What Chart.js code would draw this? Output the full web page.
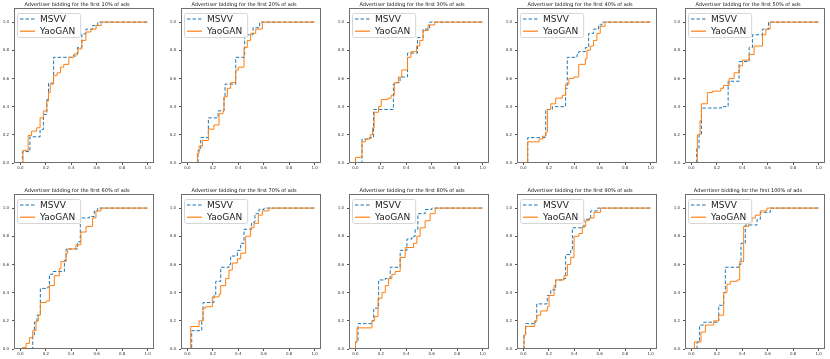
<!DOCTYPE html>
<html><head><meta charset="utf-8">
<script src="https://cdn.jsdelivr.net/npm/chart.js@4.4.1/dist/chart.umd.min.js"></script>
<style>html,body{margin:0;padding:0;background:#fff;width:830px;height:359px;overflow:hidden;position:relative}
canvas{position:absolute}</style></head><body>
<script>
// ---------- data ----------
const percents = [10,20,30,40,50,60,70,80,90,100];
const seriesNames = ['MSVV','YaoGAN'];
const xTicks = [0,0.2,0.4,0.6,0.8,1.0];
const yTicks = [0,0.2,0.4,0.6,0.8,1.0];

const msvv10 = [[0,0],[0.016,0.081],[0.075,0.186],[0.155,0.238],[0.181,0.345],[0.208,0.45],[0.221,0.567],[0.261,0.75],[0.408,0.76],[0.448,0.82],[0.483,0.917],[0.515,0.95],[0.568,0.976],[0.608,1.0],[1,1]];
const yao10 = [[0,0],[0.021,0.09],[0.061,0.195],[0.088,0.226],[0.128,0.25],[0.155,0.32],[0.181,0.37],[0.208,0.44],[0.221,0.5],[0.235,0.56],[0.261,0.62],[0.288,0.64],[0.315,0.68],[0.341,0.70],[0.381,0.75],[0.421,0.774],[0.453,0.81],[0.483,0.87],[0.515,0.93],[0.555,0.95],[0.595,0.976],[0.635,1.0],[1,1]];

const msvv20 = [[0,0],[0.084,0.09],[0.105,0.18],[0.165,0.32],[0.241,0.37],[0.288,0.47],[0.296,0.56],[0.38,0.75],[0.45,0.91],[0.516,0.96],[0.568,1.0],[1,1]];
const yao20 = [[0,0],[0.079,0.07],[0.092,0.12],[0.118,0.16],[0.165,0.24],[0.209,0.27],[0.249,0.35],[0.28,0.37],[0.288,0.47],[0.314,0.53],[0.34,0.57],[0.38,0.66],[0.40,0.68],[0.445,0.82],[0.471,0.87],[0.497,0.92],[0.537,0.95],[0.589,1.0],[1,1]];

const msvv30 = [[0,0],[0.052,0.17],[0.109,0.18],[0.143,0.38],[0.299,0.56],[0.312,0.57],[0.351,0.61],[0.41,0.78],[0.488,0.89],[0.532,0.95],[0.584,1.0],[1,1]];
const yao30 = [[0,0],[0.001,0.04],[0.052,0.15],[0.078,0.17],[0.117,0.2],[0.135,0.25],[0.148,0.36],[0.182,0.4],[0.203,0.45],[0.255,0.46],[0.281,0.48],[0.306,0.57],[0.338,0.61],[0.364,0.66],[0.41,0.75],[0.436,0.79],[0.481,0.83],[0.506,0.87],[0.532,0.94],[0.571,0.98],[0.623,1.0],[1,1]];

const msvv40 = [[0,0],[0.034,0.18],[0.176,0.38],[0.228,0.40],[0.332,0.53],[0.345,0.75],[0.422,0.77],[0.435,0.79],[0.487,0.82],[0.513,0.92],[0.552,0.95],[0.591,0.98],[0.617,1.0],[1,1]];
const yao40 = [[0,0],[0.034,0.15],[0.124,0.17],[0.15,0.19],[0.176,0.22],[0.189,0.38],[0.215,0.42],[0.254,0.46],[0.306,0.48],[0.332,0.56],[0.358,0.60],[0.396,0.61],[0.435,0.70],[0.487,0.74],[0.5,0.80],[0.526,0.83],[0.552,0.87],[0.578,0.92],[0.604,0.97],[0.642,1.0],[1,1]];

const msvv50 = [[0,0],[0.042,0.1],[0.06,0.2],[0.079,0.39],[0.236,0.40],[0.289,0.58],[0.375,0.72],[0.454,0.82],[0.48,0.91],[0.559,0.95],[0.606,1.0],[1,1]];
const yao50 = [[0,0],[0.047,0.2],[0.068,0.3],[0.079,0.42],[0.126,0.5],[0.165,0.51],[0.231,0.53],[0.252,0.55],[0.297,0.60],[0.336,0.64],[0.375,0.69],[0.402,0.73],[0.454,0.77],[0.493,0.83],[0.559,0.91],[0.585,0.95],[0.619,1.0],[1,1]];

const msvv60 = [[0,0],[0.097,0.1],[0.11,0.19],[0.131,0.24],[0.157,0.43],[0.215,0.44],[0.228,0.53],[0.254,0.55],[0.346,0.63],[0.359,0.71],[0.45,0.76],[0.471,0.93],[0.542,0.94],[0.581,0.98],[0.607,1.0],[1,1]];
const yao60 = [[0,0],[0.018,0.01],[0.045,0.04],[0.071,0.08],[0.097,0.13],[0.123,0.2],[0.141,0.24],[0.157,0.33],[0.202,0.34],[0.228,0.45],[0.267,0.52],[0.306,0.57],[0.319,0.62],[0.359,0.68],[0.372,0.71],[0.437,0.74],[0.476,0.83],[0.516,0.87],[0.568,0.93],[0.594,0.98],[0.634,1.0],[1,1]];

const msvv70 = [[0,0],[0.034,0.13],[0.113,0.2],[0.123,0.33],[0.209,0.38],[0.223,0.48],[0.262,0.58],[0.327,0.6],[0.34,0.66],[0.393,0.7],[0.419,0.75],[0.445,0.85],[0.505,0.9],[0.531,0.96],[0.563,0.99],[0.602,1.0],[1,1]];
const yao70 = [[0,0],[0.026,0.16],[0.092,0.2],[0.123,0.29],[0.144,0.3],[0.196,0.37],[0.249,0.39],[0.262,0.45],[0.301,0.5],[0.327,0.56],[0.353,0.61],[0.393,0.64],[0.419,0.68],[0.458,0.8],[0.497,0.86],[0.524,0.89],[0.558,0.95],[0.589,0.98],[0.641,1.0],[1,1]];

const msvv80 = [[0,0],[0.001,0.05],[0.021,0.18],[0.131,0.2],[0.144,0.29],[0.183,0.49],[0.235,0.5],[0.274,0.58],[0.352,0.7],[0.405,0.78],[0.444,0.8],[0.47,0.85],[0.491,0.96],[0.548,0.99],[0.601,1.0],[1,1]];
const yao80 = [[0,0],[0.001,0.05],[0.013,0.15],[0.131,0.2],[0.151,0.23],[0.178,0.36],[0.209,0.4],[0.235,0.45],[0.261,0.5],[0.287,0.53],[0.313,0.55],[0.352,0.65],[0.392,0.72],[0.457,0.75],[0.483,0.8],[0.509,0.86],[0.548,0.91],[0.587,0.96],[0.627,1.0],[1,1]];

const msvv90 = [[0,0],[0.005,0.1],[0.018,0.18],[0.097,0.2],[0.105,0.32],[0.188,0.38],[0.215,0.42],[0.254,0.49],[0.319,0.5],[0.332,0.67],[0.372,0.7],[0.385,0.86],[0.476,0.92],[0.529,0.98],[0.581,1.0],[1,1]];
const yao90 = [[0,0],[0.005,0.1],[0.018,0.16],[0.089,0.2],[0.105,0.24],[0.136,0.27],[0.188,0.3],[0.202,0.38],[0.241,0.45],[0.254,0.49],[0.319,0.52],[0.346,0.6],[0.372,0.65],[0.398,0.8],[0.437,0.82],[0.463,0.87],[0.49,0.91],[0.516,0.93],[0.555,0.97],[0.607,1.0],[1,1]];

const msvv100 = [[0,0],[0.045,0.05],[0.065,0.17],[0.097,0.19],[0.202,0.2],[0.215,0.31],[0.254,0.4],[0.267,0.58],[0.372,0.6],[0.39,0.75],[0.424,0.88],[0.516,0.92],[0.542,0.97],[0.62,1.0],[1,1]];
const yao100 = [[0,0],[0.024,0.05],[0.076,0.12],[0.11,0.17],[0.175,0.2],[0.215,0.24],[0.254,0.4],[0.28,0.46],[0.306,0.48],[0.359,0.49],[0.38,0.62],[0.411,0.87],[0.45,0.9],[0.476,0.93],[0.503,0.95],[0.542,0.98],[0.594,1.0],[1,1]];

const msvvSeries = [msvv10,msvv20,msvv30,msvv40,msvv50,msvv60,msvv70,msvv80,msvv90,msvv100];
const yaoSeries = [yao10,yao20,yao30,yao40,yao50,yao60,yao70,yao80,yao90,yao100];

// ---------- layout ----------
const boxLefts = [14,181,349,517,685];
const boxTops = [8,194];
const BOX_W = 140, BOX_H = 155, PAD_L = 14, PAD_T = 8, PAD_R = 8, PAD_B = 10;
const FONT = '"DejaVu Sans", Arial, sans-serif';

const frameAndLegend = {
  id: 'frameAndLegend',
  afterDatasetsDraw(chart) {
    const {ctx, chartArea: a} = chart;
    ctx.save();
    ctx.strokeStyle = '#6f6f6f'; ctx.lineWidth = 1; ctx.setLineDash([]);
    ctx.strokeRect(Math.round(a.left) + 0.5, Math.round(a.top) + 0.5,
                   Math.round(a.right - a.left) - 1, Math.round(a.bottom - a.top) - 1);
    // legend
    ctx.font = '9px ' + FONT;
    const ds = chart.data.datasets;
    const tw = Math.max(...ds.map(d => ctx.measureText(d.label).width));
    const lx = a.left + 3, ly = a.top + 5, lw = 23 + tw + 5, lh = 24;
    ctx.beginPath();
    ctx.roundRect(lx + 0.5, ly + 0.5, lw, lh, 2);
    ctx.fillStyle = 'rgba(255,255,255,0.85)'; ctx.fill();
    ctx.strokeStyle = '#d6d6d6'; ctx.stroke();
    ds.forEach((d, i) => {
      const y = ly + 6 + i * 12.2;
      ctx.beginPath();
      ctx.strokeStyle = d.borderColor; ctx.lineWidth = 1.2;
      ctx.setLineDash(d.borderDash || []);
      ctx.moveTo(lx + 3, y); ctx.lineTo(lx + 18, y); ctx.stroke();
      ctx.setLineDash([]);
      ctx.fillStyle = '#222'; ctx.textBaseline = 'middle'; ctx.textAlign = 'left';
      ctx.fillText(d.label, lx + 23, y + 0.5);
    });
    ctx.restore();
  }
};

percents.forEach((p, k) => {
  const col = k % 5, row = Math.floor(k / 5);
  const cv = document.createElement('canvas');
  const W = PAD_L + BOX_W + PAD_R, H = PAD_T + BOX_H + PAD_B;
  cv.width = W; cv.height = H;
  cv.style.width = W + 'px'; cv.style.height = H + 'px';
  cv.style.left = (boxLefts[col] - PAD_L) + 'px';
  cv.style.top = (boxTops[row] - PAD_T) + 'px';
  document.body.appendChild(cv);
  new Chart(cv, {
    type: 'line',
    data: {
      datasets: [
        { label: seriesNames[0], data: msvvSeries[k].map(([x, y]) => ({x, y})),
          borderColor: '#1f77b4', borderDash: [3.5, 2], borderWidth: 1, stepped: true,
          pointRadius: 0, fill: false, order: 1 },
        { label: seriesNames[1], data: yaoSeries[k].map(([x, y]) => ({x, y})),
          borderColor: '#ff7f0e', borderWidth: 1, stepped: true,
          pointRadius: 0, fill: false, order: 0 }
      ]
    },
    options: {
      responsive: false, animation: false, devicePixelRatio: 1,
      layout: { padding: { left: 0, top: 0, right: PAD_R, bottom: 0 } },
      plugins: {
        legend: { display: false }, tooltip: { enabled: false },
        title: { display: true, text: 'Advertiser bidding for the first ' + p + '% of ads',
                 color: '#111', font: { family: FONT, size: 5, weight: 'normal', lineHeight: 1 },
                 padding: { top: 2, bottom: 1 } }
      },
      scales: {
        x: {
          type: 'linear', min: -0.05, max: 1.05,
          afterBuildTicks: s => { s.ticks = xTicks.map(v => ({value: v})); },
          afterFit: s => { s.height = PAD_B; },
          grid: { drawOnChartArea: false, drawTicks: true, tickLength: 2, color: '#555' },
          border: { display: false },
          ticks: { color: '#333', font: { family: FONT, size: 4 }, padding: 1, maxRotation: 0,
                   autoSkip: false, callback: v => Number(v).toFixed(1) }
        },
        y: {
          type: 'linear', min: 0, max: 1.1,
          afterBuildTicks: s => { s.ticks = yTicks.map(v => ({value: v})); },
          afterFit: s => { s.width = PAD_L; },
          grid: { drawOnChartArea: false, drawTicks: true, tickLength: 2, color: '#555' },
          border: { display: false },
          ticks: { color: '#333', font: { family: FONT, size: 4 }, padding: 3,
                   autoSkip: false, callback: v => Number(v).toFixed(1) }
        }
      }
    },
    plugins: [frameAndLegend]
  });
});
</script>
</body></html>
